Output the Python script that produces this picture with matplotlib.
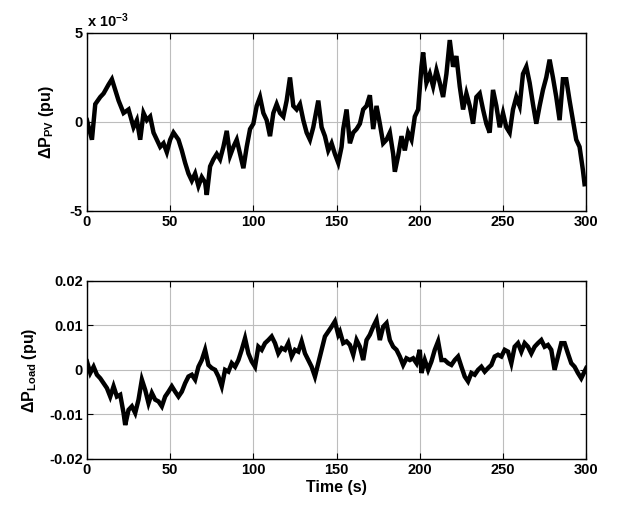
import numpy as np
import matplotlib
matplotlib.use('Agg')
import matplotlib.pyplot as plt

# values (PV in units of 1e-3 pu, load in pu)
t_pv = [0, 3, 5, 8, 10, 13, 15, 17, 19, 22, 25, 28, 30, 32, 34, 36, 38, 40, 42, 44,
        46, 48, 50, 52, 55, 57, 59, 61, 63, 65, 67, 69, 71, 72, 74, 76, 78, 80, 82, 84,
        86, 88, 90, 92, 94, 96, 98, 100, 102, 104, 106, 108, 110, 112, 114, 116, 118, 120, 122, 124,
        126, 128, 130, 132, 134, 136, 138, 139, 141, 143, 145, 147, 149, 151, 153, 154, 156, 158, 160, 162,
        164, 166, 168, 170, 172, 174, 176, 178, 180, 182, 184, 185, 187, 189, 191, 193, 195, 197, 199, 201,
        202, 204, 206, 208, 210, 212, 214, 216, 218, 220, 222, 224, 226, 228, 230, 232, 234, 236, 238, 240,
        242, 244, 246, 248, 250, 252, 254, 256, 258, 260, 262, 264, 266, 268, 270, 272, 274, 276, 278, 280,
        282, 284, 286, 288, 290, 292, 294, 296, 298, 299]
pv_milli = [0.1, -1.0, 1.0, 1.4, 1.6, 2.1, 2.4, 1.8, 1.2, 0.5, 0.7, -0.3, 0.1, -1.0, 0.5, 0.1, 0.3, -0.6, -1.0, -1.4,
            -1.2, -1.7, -1.0, -0.6, -1.0, -1.6, -2.3, -2.9, -3.3, -2.9, -3.6, -3.1, -3.4, -4.1, -2.5, -2.1, -1.8, -2.1, -1.4, -0.5,
            -1.9, -1.4, -1.0, -1.8, -2.6, -1.4, -0.4, -0.1, 0.9, 1.4, 0.5, 0.1, -0.8, 0.5, 1.0, 0.5, 0.3, 1.2, 2.5, 0.9,
            0.7, 1.0, 0.1, -0.6, -1.0, -0.3, 0.7, 1.2, -0.3, -0.8, -1.6, -1.2, -1.8, -2.3, -1.4, -0.4, 0.7, -1.2, -0.6, -0.4,
            -0.1, 0.7, 0.9, 1.5, -0.4, 0.9, -0.1, -1.2, -1.0, -0.6, -1.8, -2.8, -1.9, -0.8, -1.6, -0.6, -1.0, 0.3, 0.7, 3.1,
            3.9, 2.2, 2.7, 2.0, 2.9, 2.2, 1.4, 2.7, 4.6, 3.1, 3.7, 2.0, 0.7, 1.6, 0.9, -0.1, 1.4, 1.6, 0.7, -0.1,
            -0.6, 1.8, 0.9, -0.3, 0.5, -0.3, -0.6, 0.7, 1.4, 0.9, 2.7, 3.1, 2.2, 1.0, -0.1, 0.9, 1.8, 2.5, 3.5, 2.5,
            1.4, 0.1, 2.4, 2.4, 1.2, 0.1, -1.0, -1.4, -2.7, -3.5]

t_load = [0, 2, 4, 6, 8, 10, 12, 14, 16, 18, 20, 22, 23, 25, 27, 29, 31, 33, 35, 37,
          39, 41, 43, 45, 47, 49, 51, 53, 55, 57, 59, 61, 63, 65, 67, 69, 71, 73, 75, 77,
          79, 81, 83, 85, 87, 89, 91, 93, 95, 97, 99, 101, 103, 105, 107, 109, 111, 113, 115, 117,
          119, 121, 123, 125, 127, 129, 131, 133, 135, 137, 139, 141, 143, 145, 147, 149, 151, 152, 154, 156,
          158, 160, 162, 164, 166, 168, 170, 172, 174, 176, 178, 180, 182, 184, 186, 188, 190, 192, 194, 196,
          198, 200, 201, 203, 205, 207, 209, 211, 213, 215, 217, 219, 221, 223, 225, 227, 229, 231, 233, 235,
          237, 239, 241, 243, 245, 247, 249, 251, 253, 255, 257, 259, 261, 263, 265, 267, 269, 271, 273, 275,
          277, 279, 281, 283, 285, 287, 289, 291, 293, 295, 297, 299, 300]
p_load = [0.0019, -0.0007, 0.0007, -0.0011, -0.0019, -0.0030, -0.0041, -0.0060, -0.0037, -0.0060,
          -0.0056, -0.0097, -0.0124, -0.0090, -0.0082, -0.0097, -0.0067, -0.0022, -0.0045, -0.0075,
          -0.0052, -0.0067, -0.0071, -0.0082, -0.0060, -0.0049, -0.0037, -0.0049, -0.0060, -0.0049,
          -0.0030, -0.0015, -0.0011, -0.0022, 0.0007, 0.0022, 0.0045, 0.0011, 0.0004, 0.0000,
          -0.0015, -0.0037, 0.0000, -0.0004, 0.0015, 0.0007, 0.0022, 0.0045, 0.0071, 0.0037,
          0.0019, 0.0007, 0.0052, 0.0045, 0.0060, 0.0067, 0.0075, 0.0060, 0.0037, 0.0049,
          0.0045, 0.0060, 0.0030, 0.0045, 0.0041, 0.0064, 0.0037, 0.0022, 0.0007, -0.0015,
          0.0015, 0.0045, 0.0075, 0.0086, 0.0097, 0.0109, 0.0079, 0.0086, 0.0060, 0.0064,
          0.0056, 0.0034, 0.0067, 0.0052, 0.0022, 0.0067, 0.0079, 0.0097, 0.0112, 0.0067,
          0.0097, 0.0105, 0.0067, 0.0052, 0.0045, 0.0030, 0.0011, 0.0026, 0.0022, 0.0026,
          0.0015, 0.0045, -0.0007, 0.0022, 0.0000, 0.0019, 0.0045, 0.0064, 0.0022, 0.0022,
          0.0015, 0.0011, 0.0022, 0.0030, 0.0007, -0.0015, -0.0026, -0.0007, -0.0011, 0.0000,
          0.0007, -0.0004, 0.0004, 0.0011, 0.0030, 0.0034, 0.0030, 0.0045, 0.0041, 0.0015,
          0.0052, 0.0060, 0.0041, 0.0060, 0.0052, 0.0037, 0.0052, 0.0060, 0.0067, 0.0052,
          0.0056, 0.0045, 0.0000, 0.0030, 0.0060, 0.0060, 0.0037, 0.0015, 0.0007, -0.0007,
          -0.0019, -0.0004, 0.0004]

x_ticks = [0, 50, 100, 150, 200, 250, 300]
pv_ticks = [-5, 0, 5]
load_ticks = [-0.02, -0.01, 0, 0.01, 0.02]
load_tick_labels = ['-0.02', '-0.01', '0', '0.01', '0.02']

plt.rcParams['font.family'] = ['Liberation Sans', 'DejaVu Sans']
plt.rcParams['font.weight'] = 'bold'
plt.rcParams['mathtext.fontset'] = 'custom'
plt.rcParams['mathtext.rm'] = 'Liberation Sans:bold'
plt.rcParams['mathtext.bf'] = 'Liberation Sans:bold'
plt.rcParams['mathtext.it'] = 'Liberation Sans:bold'
plt.rcParams['mathtext.default'] = 'bf'

fig = plt.figure(figsize=(6.21, 5.07), dpi=100)
ax1 = fig.add_axes([0.140, 0.584, 0.804, 0.351])
ax2 = fig.add_axes([0.140, 0.095, 0.804, 0.351])


def style(ax):
    ax.set_xlim(0, 300)
    ax.set_xticks(x_ticks)
    ax.grid(True, color='#bdbdbd', linewidth=0.8)
    ax.tick_params(direction='in', top=True, right=True, length=4, width=0.8,
                   labelsize=10.5, pad=3)
    for sp in ax.spines.values():
        sp.set_linewidth(1.0)
    for lab in ax.get_xticklabels() + ax.get_yticklabels():
        lab.set_fontweight('bold')


ax1.plot(t_pv, pv_milli, color='black', linewidth=3.2, solid_joinstyle='miter')
ax1.set_ylim(-5, 5)
ax1.set_yticks(pv_ticks)
ax1.set_yticklabels(['-5', '0', '5'])
style(ax1)
ax1.set_ylabel(r'$\Delta$P$_{\mathrm{PV}}$ (pu)', fontsize=11.5, fontweight='bold', labelpad=10)
ax1.text(0.0, 1.015, r'x 10$^{-3}$', transform=ax1.transAxes, fontsize=10.5,
         fontweight='bold', ha='left', va='bottom')

ax2.plot(t_load, p_load, color='black', linewidth=3.2, solid_joinstyle='miter')
ax2.set_ylim(-0.02, 0.02)
ax2.set_yticks(load_ticks)
ax2.set_yticklabels(load_tick_labels)
style(ax2)
ax2.set_ylabel(r'$\Delta$P$_{\mathrm{Load}}$ (pu)', fontsize=11.5, fontweight='bold', labelpad=7)
ax2.set_xlabel('Time (s)', fontsize=11.5, fontweight='bold', labelpad=2)

fig.savefig('out.png', dpi=100)
